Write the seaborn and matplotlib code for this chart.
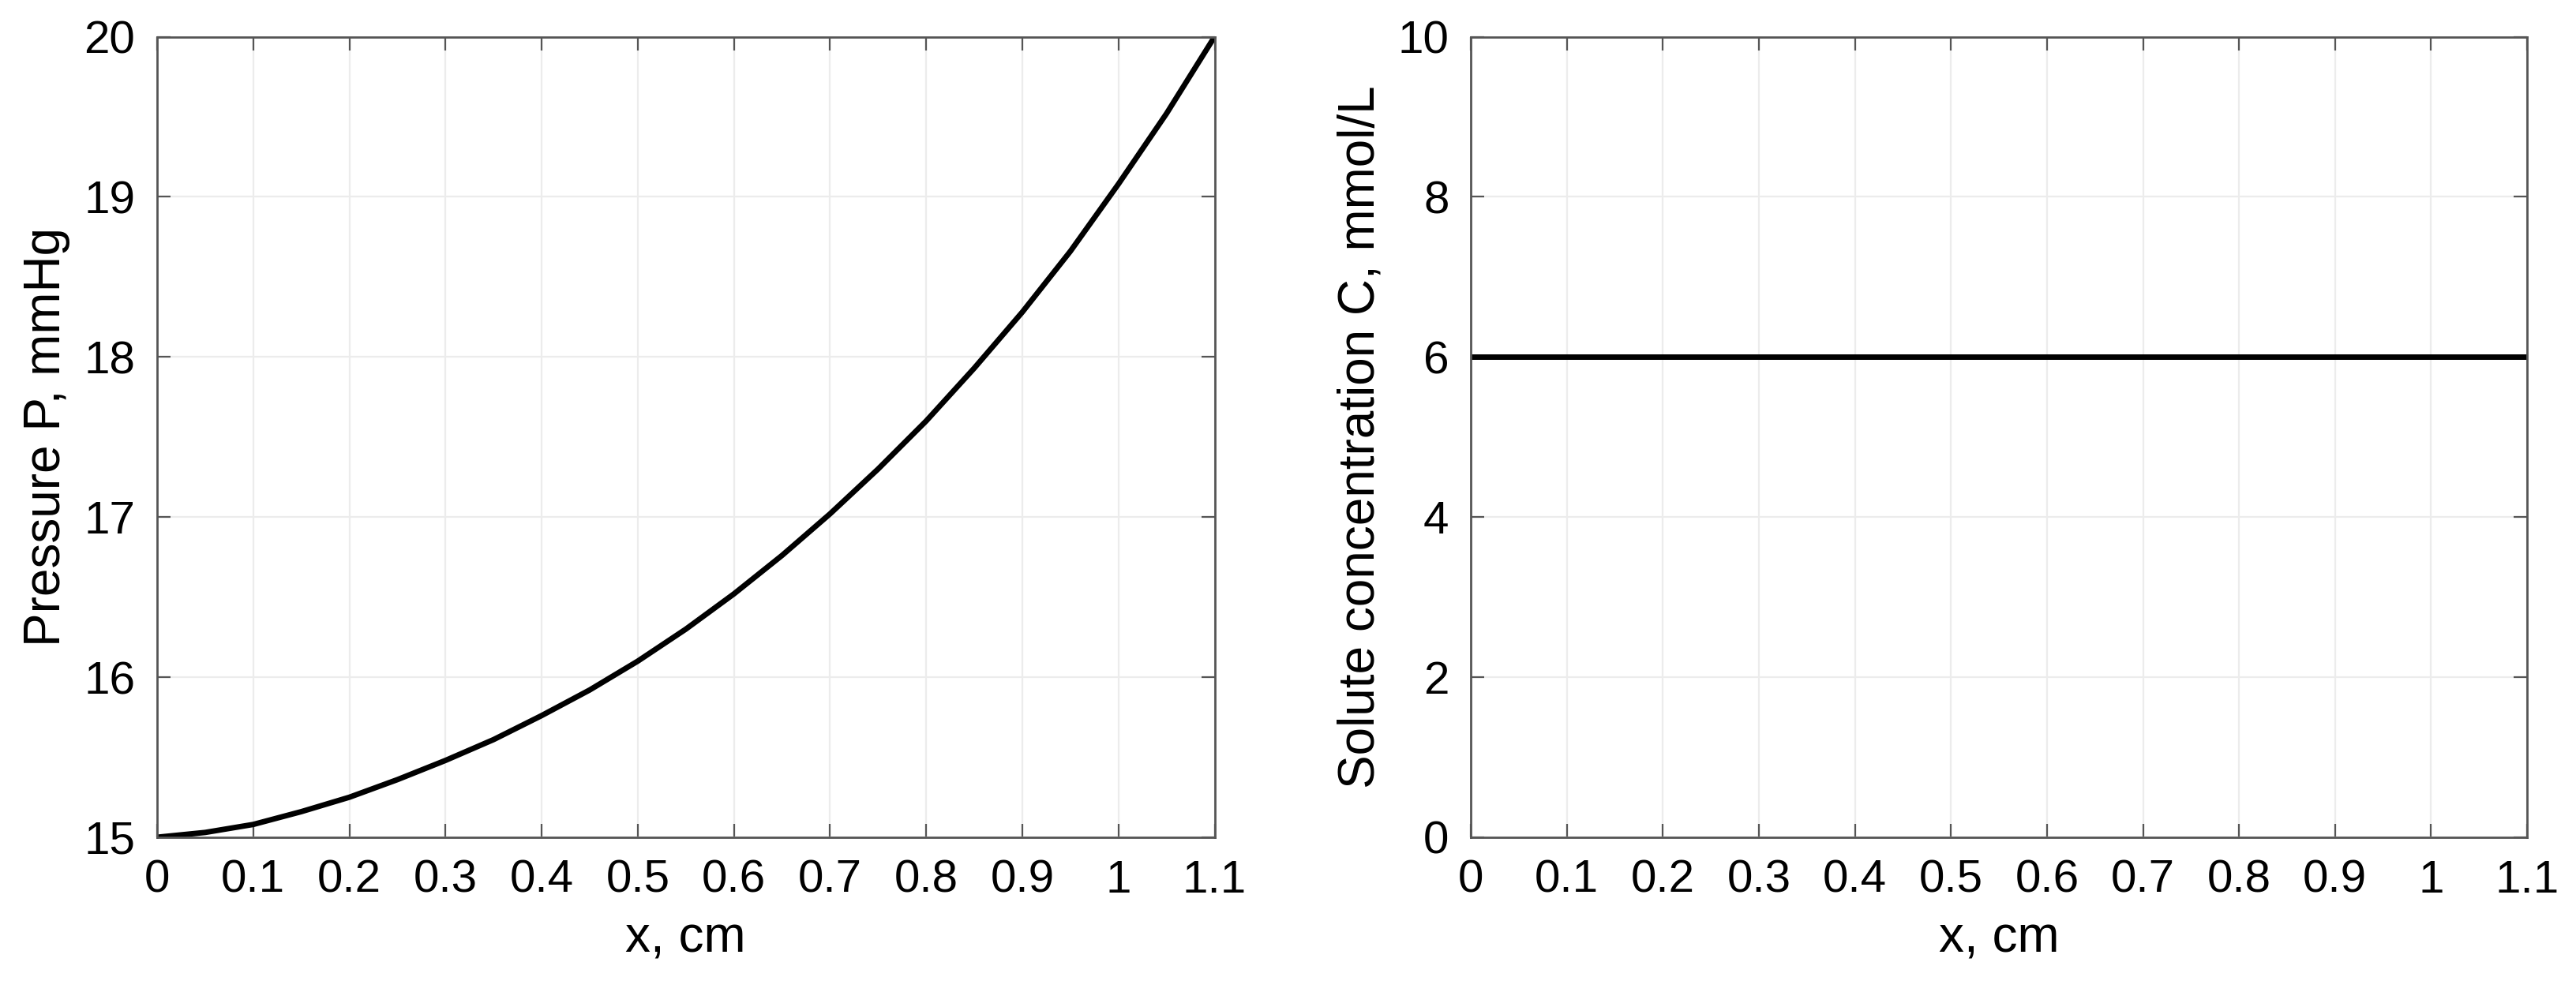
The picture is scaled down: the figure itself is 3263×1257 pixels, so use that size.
import numpy as np
import pandas as pd
import matplotlib
matplotlib.use("Agg")
import matplotlib.pyplot as plt
import seaborn as sns

sns.set_style("whitegrid")
plt.rcParams['font.family'] = ['Liberation Sans', 'DejaVu Sans']

x_cm = [0, 0.05, 0.1, 0.15, 0.2, 0.25, 0.3, 0.35, 0.4, 0.45, 0.5, 0.55, 0.6,
        0.65, 0.7, 0.75, 0.8, 0.85, 0.9, 0.95, 1.0, 1.05, 1.1]
pressure = [15.0, 15.03, 15.08, 15.16, 15.25, 15.36, 15.48, 15.61, 15.76, 15.92, 16.1,
            16.3, 16.52, 16.76, 17.02, 17.3, 17.6, 17.93, 18.28, 18.66, 19.08, 19.52, 20.0]
conc = [6.0] * len(x_cm)

df = pd.DataFrame({'x': x_cm, 'P': pressure, 'C': conc})

fig = plt.figure(figsize=(16.315, 6.285), dpi=200)
ax1 = fig.add_axes([0.061, 0.156, 0.4105, 0.807])
ax2 = fig.add_axes([0.571, 0.156, 0.410, 0.807])

xticks = np.round(np.arange(0, 1.11, 0.1), 1)
xlabels = ['0'] + [f'{t:g}' for t in xticks[1:]]

for ax, col, ylim, yticks, ylabel in [
        (ax1, 'P', (15, 20), range(15, 21), 'Pressure P, mmHg'),
        (ax2, 'C', (0, 10), range(0, 11, 2), 'Solute concentration C, mmol/L')]:
    sns.lineplot(data=df, x='x', y=col, ax=ax, color='black', linewidth=2.5)
    ax.set_xlim(0, 1.1)
    ax.set_ylim(*ylim)
    ax.set_xticks(xticks)
    ax.set_xticklabels(xlabels)
    ax.set_yticks(list(yticks))
    ax.set_xlabel('x, cm', fontsize=23, color='black', labelpad=6)
    ax.set_ylabel(ylabel, fontsize=23, color='black', labelpad=6)
    ax.tick_params(labelsize=21, direction='in', length=6, left=True, bottom=True,
                   top=True, right=True, color='#555555', labelcolor='black', pad=10)
    ax.grid(True, color='#ececec', linewidth=0.8)
    for s in ax.spines.values():
        s.set_color('#555555')
        s.set_linewidth(1)

fig.savefig('out.png', dpi=200)
